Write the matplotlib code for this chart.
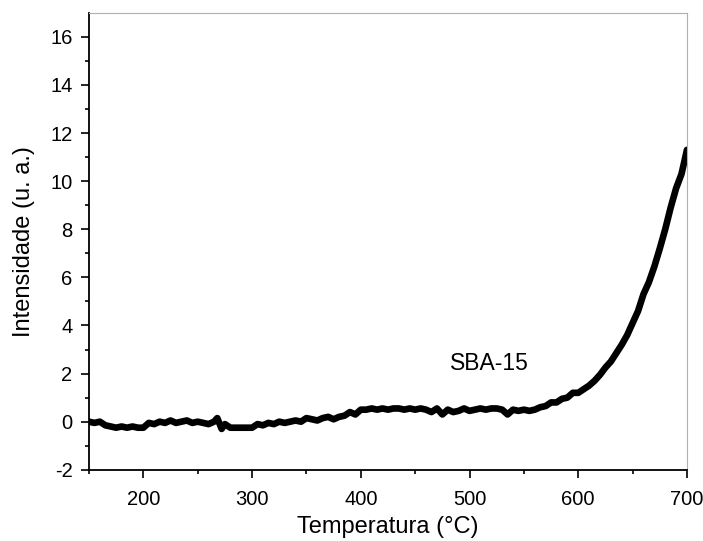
import matplotlib.pyplot as plt
import numpy as np

plt.rcParams['font.family'] = ['Liberation Sans', 'DejaVu Sans']
plt.rcParams['axes.unicode_minus'] = False

# temperature (°C) and intensity (u. a.)
temperatura = [150, 155, 160, 165, 170, 175, 180, 185, 190, 195, 200, 205, 210, 215, 220,
               225, 230, 235, 240, 245, 250, 255, 260, 265, 268, 272, 275, 280, 285, 290,
               295, 300, 305, 310, 315, 320, 325, 330, 335, 340, 345, 350, 355, 360, 365,
               370, 375, 380, 385, 390, 395, 400, 405, 410, 415, 420, 425, 430, 435, 440,
               445, 450, 455, 460, 465, 470, 475, 480, 485, 490, 495, 500, 505, 510, 515,
               520, 525, 530, 535, 540, 545, 550, 555, 560, 565, 570, 575, 580, 585, 590,
               595, 600, 605, 610, 615, 620, 625, 630, 635, 640, 645, 650, 655, 660, 665,
               670, 675, 680, 685, 690, 695, 700]
intensidade = [0.0, -0.05, 0.0, -0.15, -0.2, -0.25, -0.2, -0.25, -0.2, -0.25, -0.25, -0.05, -0.1, 0.0, -0.05,
               0.05, -0.05, 0.0, 0.05, -0.05, 0.0, -0.05, -0.1, 0.0, 0.15, -0.3, -0.1, -0.25, -0.25, -0.25,
               -0.25, -0.25, -0.1, -0.15, -0.05, -0.1, 0.0, -0.05, 0.0, 0.05, 0.0, 0.15, 0.1, 0.05, 0.15,
               0.2, 0.1, 0.2, 0.25, 0.4, 0.3, 0.5, 0.5, 0.55, 0.5, 0.55, 0.5, 0.55, 0.55, 0.5,
               0.55, 0.5, 0.55, 0.5, 0.4, 0.55, 0.3, 0.5, 0.4, 0.45, 0.55, 0.45, 0.5, 0.55, 0.5,
               0.55, 0.55, 0.5, 0.3, 0.5, 0.45, 0.5, 0.45, 0.5, 0.6, 0.65, 0.8, 0.8, 0.95, 1.0,
               1.2, 1.2, 1.35, 1.5, 1.7, 1.95, 2.25, 2.5, 2.85, 3.2, 3.6, 4.1, 4.6, 5.3, 5.8,
               6.45, 7.2, 8.0, 8.9, 9.7, 10.3, 11.3]

fig, ax = plt.subplots(figsize=(7.03, 5.41), dpi=100)
fig.subplots_adjust(left=0.1266, right=0.9772, bottom=0.1316, top=0.9765)

ax.plot(temperatura, intensidade, color='black', linewidth=4.8, solid_capstyle='round')
ax.text(518, 2.4, 'SBA-15', fontsize=16.5, ha='center', va='center')

ax.set_xlim(150, 700)
ax.set_ylim(-2, 17)
ax.set_xticks(np.arange(200, 701, 100))
ax.set_xticks(np.arange(150, 701, 50), minor=True)
ax.set_yticks(np.arange(-2, 17, 2))
ax.set_yticks(np.arange(-2, 17, 1), minor=True)

ax.tick_params(which='major', direction='out', length=5.8, width=1.2, pad=6, labelsize=14.5)
ax.tick_params(axis='x', which='major', pad=9)
ax.tick_params(which='minor', direction='out', length=3.2, width=1.2)
for s in ['top', 'right']:
    ax.spines[s].set_color('#b0b0b0')
    ax.spines[s].set_linewidth(0.8)
for s in ['left', 'bottom']:
    ax.spines[s].set_linewidth(1.3)

ax.set_xlabel('Temperatura (°C)', fontsize=17)
ax.set_ylabel('Intensidade (u. a.)', fontsize=17)
ax.xaxis.set_label_coords(0.5, -0.1)
ax.yaxis.set_label_coords(-0.09, 0.5)

fig.savefig('out.png', dpi=100)
